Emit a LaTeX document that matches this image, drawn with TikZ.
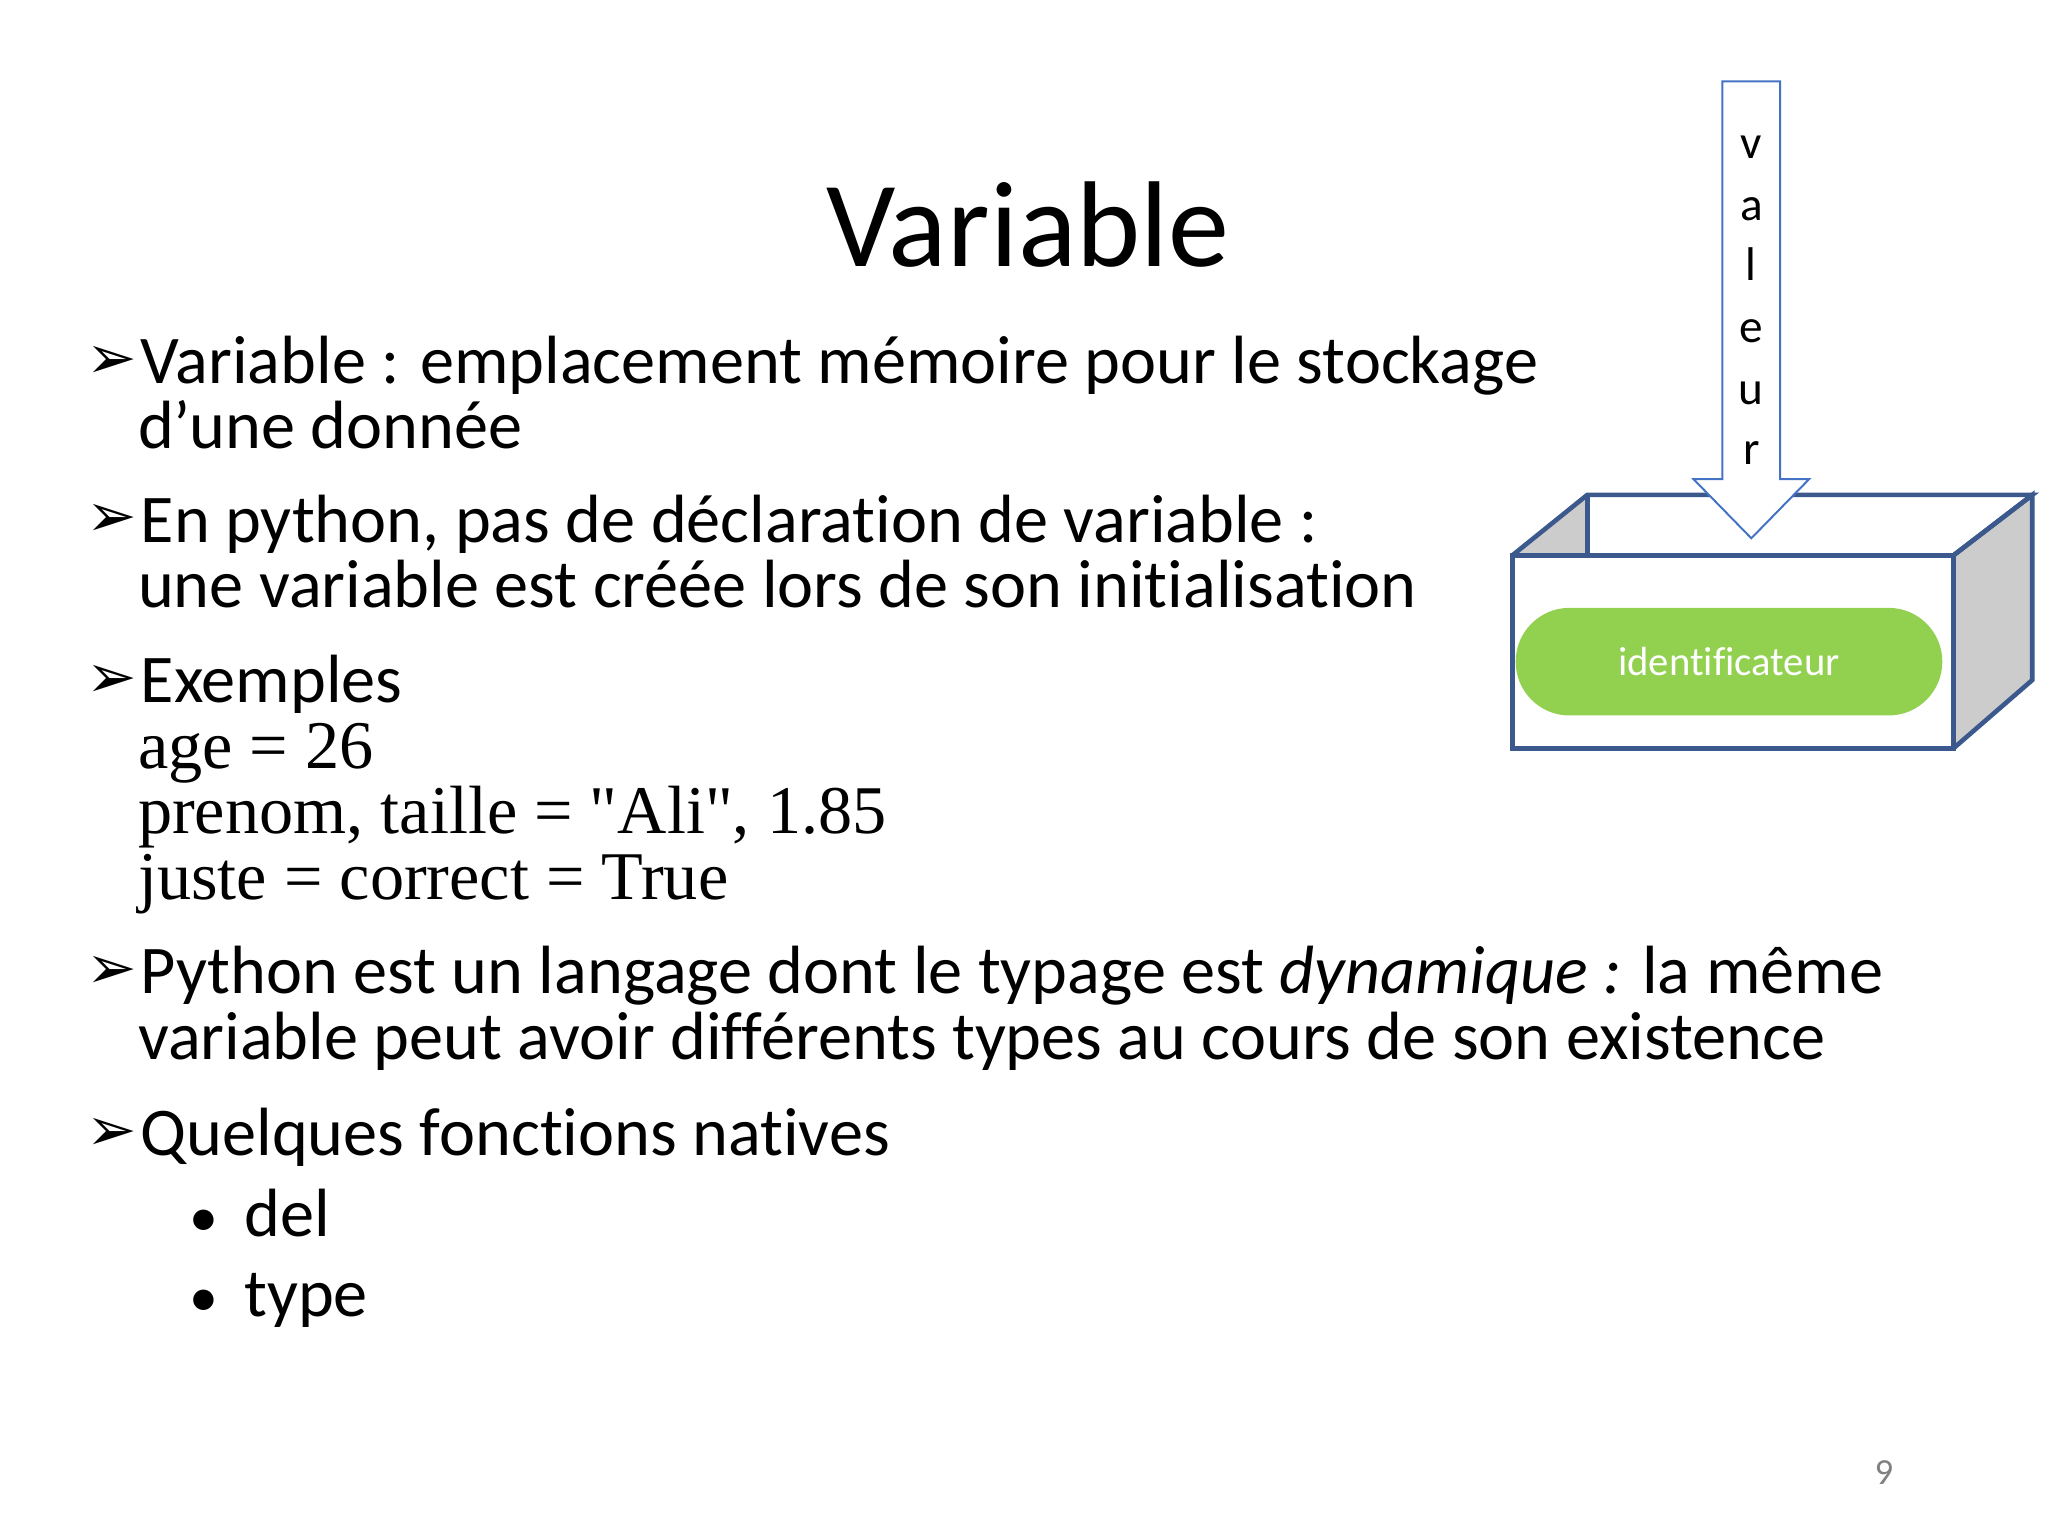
\documentclass[tikz,border=0pt]{standalone}
\usepackage{fontspec}
\setmainfont{Carlito}[Ligatures={NoCommon}]
\newfontfamily\tmsf{Liberation Serif}
\newfontfamily\djvf{DejaVu Sans}
\begin{document}
\begin{tikzpicture}[x=1pt,y=-1pt,
  txt/.style={anchor=base west,inner sep=0pt,font=\fontsize{52}{50}\selectfont},
  ex/.style={anchor=base west,inner sep=0pt,font=\tmsf\fontsize{52}{50}\selectfont},
  bul/.style={anchor=base west,inner sep=0pt,font=\djvf\bfseries\fontsize{46}{46}\selectfont}]
\useasboundingbox (0,0) rectangle (1560,1170);
\definecolor{bx}{RGB}{59,89,140}
\definecolor{ar}{RGB}{68,114,196}
\definecolor{gr}{RGB}{146,208,80}
\node[anchor=base,inner sep=0,font=\fontsize{93}{93}\selectfont] (title) at (783,203) {Variable};
\foreach \y/\n in {292/b1,413/b2,535/b3,757/b4,880/b5}
  \node[bul] (\n) at (66,\y-4) {➢};
\node[txt] (t1) at (107,292) {Variable : emplacement mémoire pour le stockage};
\node[txt] (t1b) at (105,342) {d’une donnée};
\node[txt] (t2) at (107,413) {En python, pas de déclaration de variable :};
\node[txt] (t2b) at (105,463) {une variable est créée lors de son initialisation};
\node[txt] (t3) at (107,535) {Exemples};
\node[ex] (e1) at (105,585) {age = 26};
\node[ex] (e2) at (105,635) {prenom, taille = "Ali", 1.85};
\node[ex] (e3) at (105,685) {juste = correct = True};
\node[txt] (t4) at (107,757) {Python est un langage dont le typage est \textit{dynamique :} la même};
\node[txt] (t4b) at (105,807) {variable peut avoir différents types au cours de son existence};
\node[txt] (t5) at (107,880) {Quelques fonctions natives};
\node[txt] (d1) at (144,942) {\fontsize{44}{44}\selectfont•\hspace{20pt}\fontsize{52}{50}\selectfont del};
\node[txt] (d2) at (144,1003) {\fontsize{44}{44}\selectfont•\hspace{20pt}\fontsize{52}{50}\selectfont type};
\node[anchor=base,inner sep=0,text=gray,font=\fontsize{28}{28}\selectfont] (pg) at (1435,1131) {9};
\begin{scope}[xshift=-5pt]
\fill[gray!40] (1157,423) -- (1214,377) -- (1214,423) -- cycle;
\fill[gray!40] (1493,423) -- (1553,377) -- (1553,518) -- (1493,570) -- cycle;
\draw[draw=bx,line width=3.5pt] (1157,423) -- (1214,377) -- (1553,377) -- (1493,423);
\draw[draw=bx,line width=3.5pt] (1214,377) -- (1214,423);
\draw[draw=bx,line width=3.5pt] (1493,423) -- (1553,377) -- (1553,518) -- (1493,570);
\draw[draw=bx,line width=3.5pt] (1157,423) rectangle (1493,570);
\draw[ar,fill=white,line width=1.5pt] (1317,62) -- (1361,62) -- (1361,365) -- (1383,365) -- (1339,410) -- (1295,365) -- (1317,365) -- cycle;
\foreach \c/\y in {v/110,a/157,l/203,e/250,u/297,r/343}
  \node[anchor=base,inner sep=0,font=\fontsize{36}{36}\selectfont] at (1339,\y+11) {\c};
\node[fill=gr,minimum width=325pt,minimum height=82pt,rounded corners=41pt,text=white,font=\fontsize{31}{31}\selectfont] (id) at (1322,504) {identificateur};
\end{scope}
\end{tikzpicture}
\end{document}
